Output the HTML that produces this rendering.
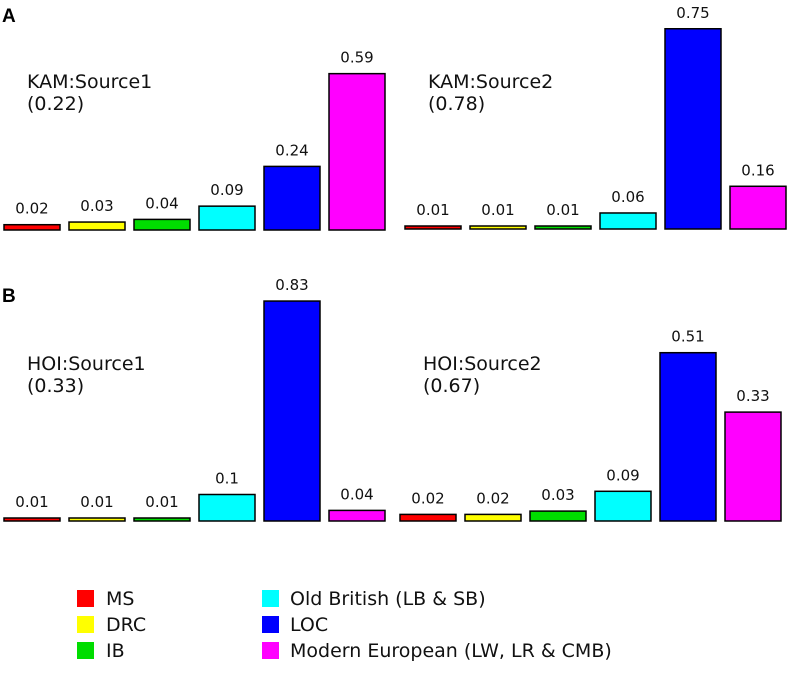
<!DOCTYPE html>
<html><head><meta charset="utf-8"><style>
body{margin:0;background:#fff}
svg{display:block;font-family:"DejaVu Sans","Liberation Sans",sans-serif}
</style></head><body>
<svg id="c" width="787" height="694">
<text x="2" y="22" font-size="19" font-weight="bold" font-family="Liberation Sans">A</text>
<text x="2" y="302" font-size="19" font-weight="bold" font-family="Liberation Sans">B</text>
</svg>
<script>
const categories=["MS","DRC","IB","Old British (LB & SB)","LOC","Modern European (LW, LR & CMB)"];
const colors=["#ff0000","#ffff00","#00dd00","#00ffff","#0000ff","#ff00ff"];
const kam1=[0.02,0.03,0.04,0.09,0.24,0.59];
const kam2=[0.01,0.01,0.01,0.06,0.75,0.16];
const hoi1=[0.01,0.01,0.01,0.1,0.83,0.04];
const hoi2=[0.02,0.02,0.03,0.09,0.51,0.33];
const titles=["KAM:Source1","KAM:Source2","HOI:Source1","HOI:Source2"];
const weights=["(0.22)","(0.78)","(0.33)","(0.67)"];
const svg=document.getElementById('c');
const NS="http://www.w3.org/2000/svg";
function mk(t,a){const e=document.createElementNS(NS,t);for(const k in a)e.setAttribute(k,a[k]);svg.appendChild(e);return e;}
const panels=[
 {vals:kam1,x0:4,base:230,scale:265,ty:88},
 {vals:kam2,x0:405,base:229,scale:267,ty:88},
 {vals:hoi1,x0:4,base:521,scale:265,ty:370},
 {vals:hoi2,x0:400,base:521,scale:330,ty:370}];
function fmt(v){return String(v);}
panels.forEach((p,pi)=>{
 const t=mk('text',{x:p.x0+23,y:p.ty,'font-size':19,fill:'#111'});t.textContent=titles[pi];
 
 
 const w=mk('text',{x:p.x0+23,y:p.ty+22,'font-size':19,fill:'#111'});w.textContent=weights[pi];
 
 
 p.vals.forEach((v,i)=>{
  const x=p.x0+i*65;
  const h=Math.max(3,v*p.scale);
  const r=mk('rect',{x:x,y:p.base-h,width:56,height:h,fill:colors[i],stroke:'#000','stroke-width':1.5});
  
  
  const l=mk('text',{x:x+28,y:p.base-h-11,'font-size':15,'text-anchor':'middle',fill:'#111'});
  l.textContent=fmt(v);
  
  
 });
});
categories.forEach((c,i)=>{
 const col=i<3?0:1;const row=i%3;
 const sx=col?262:77, tx=col?290:106, y=590+row*26;
 const s=mk('rect',{x:sx,y:y,width:17,height:17,fill:colors[i]});
 
 
 const t=mk('text',{x:tx,y:y+15,'font-size':19,fill:'#111'});t.textContent=c;
 
 
});
</script>
</body></html>
